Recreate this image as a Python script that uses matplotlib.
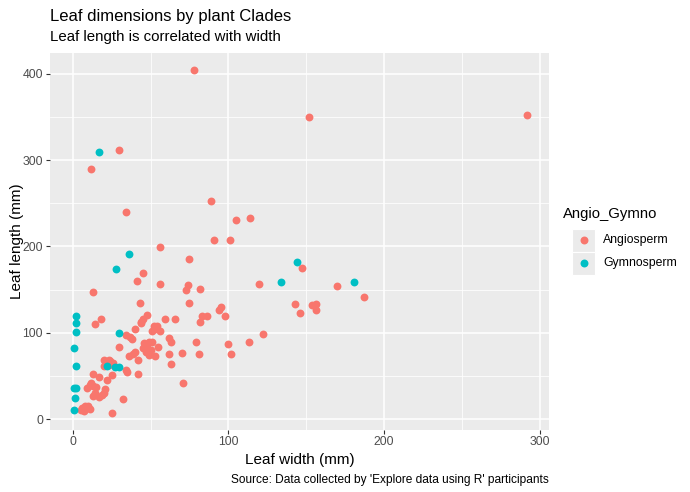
import matplotlib.pyplot as plt
from matplotlib.patches import Rectangle
from matplotlib.lines import Line2D

plt.rcParams['font.family'] = ['Liberation Sans', 'DejaVu Sans']

# Angiosperm: leaf width (mm), leaf length (mm)
angio_w = [78, 152, 292, 30, 12, 89, 34, 105, 114, 91, 101, 56, 75, 45, 41, 56, 74, 82,
           13, 73, 147, 120, 170, 187, 143, 154, 156, 156, 43, 75, 95, 94, 98, 48, 44, 45,
           44, 52, 54, 53, 56, 51, 59, 66, 83, 86, 82, 40, 14, 18, 34, 37, 30, 38, 62, 63,
           79, 100, 113, 102, 81, 70, 62, 63, 71, 46, 49, 51, 48, 45, 50, 49, 55, 53, 47,
           40, 39, 36, 42, 34, 35, 42, 20, 23, 24, 26, 23, 20, 25, 13, 17, 22, 9, 11, 12,
           13, 15, 14, 17, 20, 21, 19, 13, 32, 25, 5, 6, 8, 10, 11, 7, 122, 146]
angio_l = [404, 350, 352, 312, 290, 253, 240, 231, 233, 208, 208, 199, 185, 169, 160, 157,
           155, 151, 147, 150, 175, 157, 154, 142, 134, 132, 134, 127, 135, 135, 130, 127,
           120, 121, 113, 116, 111, 108, 108, 104, 102, 102, 116, 116, 120, 120, 113, 104,
           110, 116, 98, 95, 84, 93, 94, 90, 90, 87, 90, 76, 75, 77, 75, 64, 42, 88, 90, 90,
           84, 82, 80, 74, 84, 73, 78, 78, 76, 73, 69, 57, 55, 52, 69, 69, 67, 65, 63, 62,
           51, 53, 49, 45, 36, 40, 42, 38, 37, 31, 26, 31, 35, 28, 27, 24, 7, 11, 13, 15,
           15, 12, 10, 99, 123]

# Gymnosperm
gymno_w = [17, 36, 28, 144, 134, 181, 2, 2, 2, 30, 1, 2, 22, 27, 30, 1, 2, 1.5, 1]
gymno_l = [309, 191, 174, 182, 159, 159, 120, 112, 101, 100, 82, 62, 62, 60, 60, 36, 36, 25, 11]

groups = ['Angiosperm', 'Gymnosperm']
colors = ['#F8766D', '#00BFC4']

fig = plt.figure(figsize=(6.9, 4.92), dpi=100)
ax = fig.add_axes([50/690, 1-429.5/492, 499/690, 377/492])
ax.set_facecolor('#EBEBEB')
for s in ax.spines.values():
    s.set_visible(False)

ax.set_xticks([0, 100, 200, 300])
ax.set_yticks([0, 100, 200, 300, 400])
ax.set_xticks([50, 150, 250], minor=True)
ax.set_yticks([50, 150, 250, 350], minor=True)
ax.grid(which='major', color='white', linewidth=1.1)
ax.grid(which='minor', color='white', linewidth=0.55)
ax.set_axisbelow(True)
ax.tick_params(which='major', length=3, color='#333333', labelcolor='#4D4D4D',
               labelsize=8.8, width=0.8, pad=2)
ax.tick_params(which='minor', length=0)

ax.scatter(angio_w, angio_l, s=32, color=colors[0], linewidths=0, zorder=3)
ax.scatter(gymno_w, gymno_l, s=32, color=colors[1], linewidths=0, zorder=3)

ax.set_xlim(-14.6, 306)
ax.set_ylim(-11.8, 424.5)

ax.set_xlabel('Leaf width (mm)', fontsize=11, labelpad=3)
ax.set_ylabel('Leaf length (mm)', fontsize=11)
ax.yaxis.set_label_coords(-26/499, 0.5)

fig.text(50/690, 1-16/492, 'Leaf dimensions by plant Clades', fontsize=12, va='center', ha='left')
fig.text(50/690, 1-37/492, 'Leaf length is correlated with width', fontsize=10.8, va='center', ha='left')
fig.text(549/690, 1-480/492, "Source: Data collected by 'Explore data using R' participants",
         fontsize=8.6, va='center', ha='right')

# legend
fig.text(563/690, 1-214/492, 'Angio_Gymno', fontsize=10.7, va='center', ha='left')
for i, (g, c) in enumerate(zip(groups, colors)):
    yc = 240 + i * 23
    fig.add_artist(Rectangle((572/690, 1-(yc+11.5)/492), 23/690, 23/492,
                             transform=fig.transFigure, facecolor='#EBEBEB', edgecolor='white', linewidth=0.8))
    fig.add_artist(Line2D([583.5/690], [1-yc/492], transform=fig.transFigure, marker='o',
                          markersize=5.7, color=c, markeredgewidth=0, linestyle='none'))
    fig.text(603/690, 1-yc/492, g, fontsize=8.8, va='center', ha='left')

fig.savefig('out.png', dpi=100)
